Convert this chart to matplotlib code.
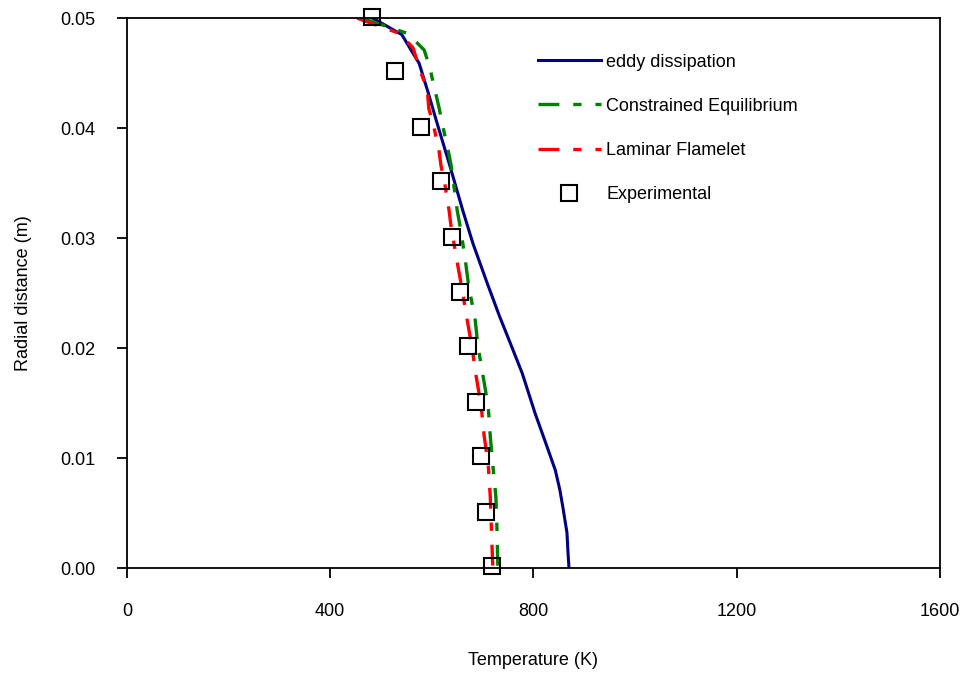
import numpy as np
import matplotlib
matplotlib.use('Agg')
import matplotlib.pyplot as plt

plt.rcParams['font.family'] = ['Liberation Sans', 'DejaVu Sans']
plt.rcParams['lines.scale_dashes'] = False

# eddy dissipation (solid navy)
eddy_T = [480, 541, 563, 575, 593, 610, 636, 661, 681, 709, 734, 754, 778,
          803, 827, 843, 852, 858, 866, 868, 870]
eddy_r = [0.0501, 0.0485, 0.0468, 0.0459, 0.0432, 0.0405, 0.0365, 0.0325,
          0.0295, 0.0259, 0.0228, 0.0205, 0.0177, 0.0141, 0.0110, 0.0089,
          0.0071, 0.0055, 0.0032, 0.0014, 0.0]

# constrained equilibrium (green dashed)
ce_T = [469, 553, 585, 596, 606, 614, 622, 632, 638, 650, 656, 665, 673,
        685, 691, 701, 711, 715, 720, 726, 728, 730]
ce_r = [0.0499, 0.0486, 0.0471, 0.0455, 0.0435, 0.0419, 0.0401, 0.0380,
        0.0366, 0.0325, 0.0310, 0.0283, 0.0255, 0.0227, 0.0201, 0.0174,
        0.0147, 0.0120, 0.0094, 0.0065, 0.0039, 0.0]

# laminar flamelet (red dashed)
lf_T = [453, 537, 563, 575, 591, 594, 604, 614, 618, 626, 634, 638, 648,
        659, 669, 679, 687, 697, 703, 711, 715, 717, 720]
lf_r = [0.0500, 0.0486, 0.0473, 0.0455, 0.0435, 0.0418, 0.0401, 0.0380,
        0.0366, 0.0348, 0.0325, 0.0310, 0.0283, 0.0255, 0.0227, 0.0201,
        0.0175, 0.0148, 0.0120, 0.0094, 0.0065, 0.0039, 0.0]

# experimental points
exp_T = [482, 528, 579, 618, 640, 655, 671, 687, 697, 707, 718]
exp_r = [0.0501, 0.0452, 0.0401, 0.0352, 0.0301, 0.0251, 0.0202, 0.0151,
         0.0102, 0.0051, 0.0002]

fig = plt.figure(figsize=(9.73, 6.73), dpi=100)
ax = fig.add_axes([0.1305, 0.156, 0.8355, 0.817])

dash = (15, 10, 6, 10)
ax.plot(eddy_T, eddy_r, color='#000080', lw=2.2, label='eddy dissipation')
ax.plot(ce_T, ce_r, color='#008000', lw=2.4, dashes=dash,
        label='Constrained Equilibrium')
ax.plot(lf_T, lf_r, color='#ff0000', lw=2.4, dashes=dash,
        label='Laminar Flamelet')
ax.plot(exp_T, exp_r, linestyle='none', marker='s', markersize=11.5,
        markerfacecolor='none', markeredgecolor='black', markeredgewidth=1.5,
        label='Experimental', clip_on=False)

ax.set_xlim(0, 1600)
ax.set_ylim(0, 0.05)
ax.set_xticks([0, 400, 800, 1200, 1600])
ax.set_yticks([0, 0.01, 0.02, 0.03, 0.04, 0.05])
ax.set_yticklabels(['0.00', '0.01', '0.02', '0.03', '0.04', '0.05'])
ax.tick_params(direction='out', length=7, width=1.3, labelsize=13, color='black')
ax.tick_params(axis='x', pad=18)
ax.tick_params(axis='y', pad=16)
for s in ax.spines.values():
    s.set_linewidth(1.3)

ax.set_xlabel('Temperature (K)', fontsize=13, labelpad=23)
ax.set_ylabel('Radial distance (m)', fontsize=13, labelpad=20)

ax.legend(loc='upper left', bbox_to_anchor=(0.485, 0.965), frameon=False,
          fontsize=13, handlelength=3.5, labelspacing=1.5, handletextpad=0.3)

fig.savefig('out.png', dpi=100)
